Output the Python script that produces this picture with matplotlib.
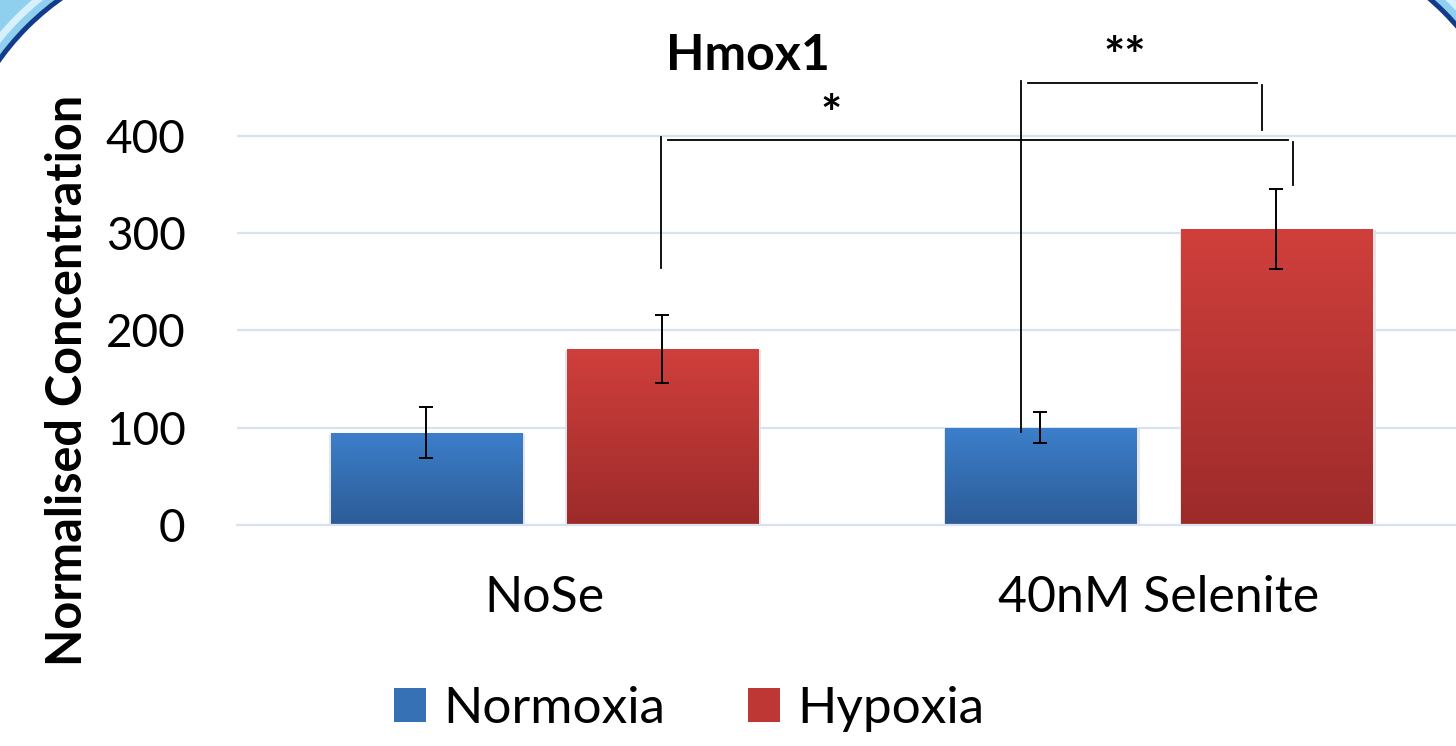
import numpy as np
import matplotlib
matplotlib.use('Agg')
import matplotlib.pyplot as plt
from matplotlib.patches import Arc, Patch
from matplotlib.colors import LinearSegmentedColormap
from matplotlib.transforms import IdentityTransform

plt.rcParams['font.family'] = ['Lato', 'DejaVu Sans']

# data
groups = ['NoSe', '40nM Selenite']
series = ['Normoxia', 'Hypoxia']
normoxia = [95, 100]
hypoxia = [181, 304]
normoxia_err = [26, 16]
hypoxia_err = [35, 41]
y_ticks = [0, 100, 200, 300, 400]

# significance brackets: (x0, x1, y, left_bottom, right_bottom, label, label_x, label_y)
brackets = [
    (0.19, 1.219, 396, 264, 349, '*', 0.467, 420),
    (0.776, 1.168, 454, 96, 406, '**', 0.945, 480),
]

W, H, DPI = 1456, 746, 100
fig = plt.figure(figsize=(W / DPI, H / DPI), dpi=DPI)
ax = fig.add_axes([237 / W, (H - 525) / H, 1228.5 / W, 437.8 / H])

x = np.arange(len(groups))
bw = 0.311
off = 0.192
cols = {'Normoxia': ('#3c7fcb', '#2c5c97'), 'Hypoxia': ('#d03f3c', '#9c2b2a')}

def grad_bars(bars, top, bot):
    cmap = LinearSegmentedColormap.from_list('g', [bot, top])
    g = np.linspace(0, 1, 256).reshape(-1, 1)
    for b in bars:
        bx, bwid, bh = b.get_x(), b.get_width(), b.get_height()
        # soft shadow
        ax.add_patch(plt.Rectangle((bx - 0.002, -4), bwid + 0.008, bh + 3, color='#000000',
                                   alpha=0.10, lw=0, zorder=1.5))
        im = ax.imshow(g, extent=[bx, bx + bwid, 0, bh], origin='lower',
                       aspect='auto', cmap=cmap, zorder=2.5)
        im.set_clip_path(b)

b1 = ax.bar(x - off, normoxia, bw, color=cols['Normoxia'][0], zorder=2)
b2 = ax.bar(x + off, hypoxia, bw, color=cols['Hypoxia'][0], zorder=2)
grad_bars(b1, *cols['Normoxia'])
grad_bars(b2, *cols['Hypoxia'])

ax.errorbar(x - off, normoxia, yerr=normoxia_err, fmt='none', ecolor='black',
            elinewidth=1.4, capsize=4.8, capthick=1.4, zorder=5)
ax.errorbar(x + off, hypoxia, yerr=hypoxia_err, fmt='none', ecolor='black',
            elinewidth=1.4, capsize=4.8, capthick=1.4, zorder=5)

ax.set_xlim(-0.5, 1.5)
ax.set_ylim(0, 450)
ax.set_yticks(y_ticks)
ax.set_xticks(x)
ax.set_xticklabels(groups, fontsize=36)
ax.tick_params(axis='y', labelsize=33, length=0, pad=37)
ax.tick_params(axis='x', length=0, pad=36)
ax.grid(axis='y', color='#d9e2f0', lw=1.6, zorder=0)
for s in ['top', 'right', 'left']:
    ax.spines[s].set_visible(False)
ax.spines['bottom'].set_color('#d9e2f0')
ax.spines['bottom'].set_linewidth(1.6)

for x0, x1, yb, lb, rb, lab, lx, ly in brackets:
    kw = dict(color='black', lw=1.3, clip_on=False, zorder=6)
    ax.plot([x0 + 0.012, x1 - 0.008], [yb, yb], **kw)
    ax.plot([x0, x0], [lb, yb + (2 if lab == '**' else 3)], **kw)
    ax.plot([x1, x1], [rb, yb - 2], **kw)
    ax.text(lx, ly, lab, ha='center', va='center', fontsize=36,
            fontweight='bold', clip_on=False)

fig.text(748 / W, 1 - 70 / H, 'Hmox1', ha='center', va='baseline',
         fontsize=36, fontweight='bold')
fig.text(68 / W, 1 - 380 / H, 'Normalised Concentration', ha='center',
         va='center', rotation=90, fontsize=35, fontweight='bold')

handles = [Patch(facecolor='#3670b5', label='Normoxia'),
           Patch(facecolor='#be3735', label='Hypoxia')]
fig.legend(handles=handles, loc='center', bbox_to_anchor=(689 / W, 1 - 709 / H),
           ncol=2, frameon=False, fontsize=37, handlelength=0.63,
           handleheight=0.63, handletextpad=0.33, columnspacing=1.6)

# slide frame corners (display pixels)
R = 263
corners = [((213, H - 213), 90, 180), ((W - 198, H - 198), 0, 90)]
for c, t1, t2 in corners:
    for rad, lw, ec in [(R + 28, 56, '#8fd0ef'), (R + 13, 7, '#d6f1fb'), (R, 5, '#123b8c')]:
        fig.add_artist(Arc(c, 2 * rad, 2 * rad, theta1=t1, theta2=t2,
                           transform=IdentityTransform(), ec=ec,
                           lw=lw * 72 / DPI, zorder=10))

fig.savefig('out.png', dpi=DPI)
